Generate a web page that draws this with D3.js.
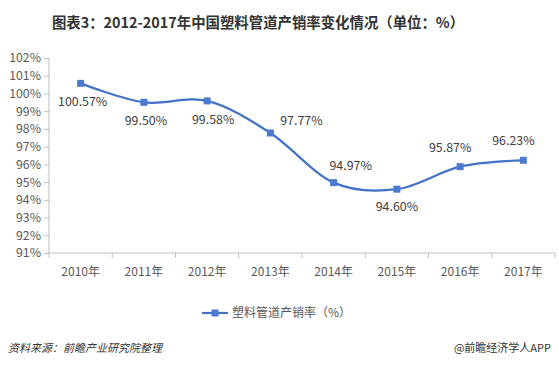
<!DOCTYPE html>
<html><head><meta charset="utf-8">
<script src="https://cdn.jsdelivr.net/npm/d3@7"></script>
<style>body{margin:0;background:#fff;}svg{display:block;}</style>
</head><body>
<script>
const title = "图表3：2012-2017年中国塑料管道产销率变化情况（单位：%）";
const categories = ["2010年","2011年","2012年","2013年","2014年","2015年","2016年","2017年"];
const values = [100.57, 99.50, 99.58, 97.77, 94.97, 94.60, 95.87, 96.23];
const yTicks = [91,92,93,94,95,96,97,98,99,100,101,102];
const seriesName = "塑料管道产销率（%）";
const sourceText = "资料来源：前瞻产业研究院整理";
const creditText = "@前瞻经济学人APP";
// label placement relative to point: [dx, dy]
const labelOffsets = [[2,18],[2,18],[6,19],[31,-12],[17,-17],[0,17],[-10,-19],[-10,-20]];

const W = 559, H = 368;
const font = "'Microsoft YaHei','Noto Sans CJK SC','Noto Sans',sans-serif";
const svg = d3.select("body").append("svg").attr("width", W).attr("height", H);

svg.append("text").attr("x", 258).attr("y", 28).attr("text-anchor","middle")
  .attr("font-family", font).attr("font-weight","bold").attr("font-size", 14.4).attr("fill","#333")
  .text(title);

const x = d3.scaleBand().domain(categories).range([49, 555]);
const y = d3.scaleLinear().domain([91, 102]).range([253, 58]);

const xAxis = svg.append("g").attr("transform","translate(0,253)")
  .call(d3.axisBottom(x).tickSize(5).tickFormat(d=>d).tickValues(categories));
xAxis.selectAll(".tick line").attr("transform", `translate(${-x.step()/2},0)`);
xAxis.append("line").attr("x1", x.range()[1]).attr("x2", x.range()[1]).attr("y1",0).attr("y2",5).attr("stroke","#bfbfbf");
xAxis.select(".domain").attr("d", `M${x.range()[0]},0H${x.range()[1]}`);
xAxis.selectAll("line,path").attr("stroke","#bfbfbf");
xAxis.selectAll("text").attr("font-family", font).attr("font-size",12).attr("fill","#595959").attr("dy","1.25em");

const yAxis = svg.append("g").attr("transform","translate(49,0)")
  .call(d3.axisLeft(y).tickValues(yTicks).tickSize(5).tickFormat(d=>d+"%"));
yAxis.select(".domain").attr("d", `M0,${y(102)}V${y(91)}`);
yAxis.selectAll("line,path").attr("stroke","#bfbfbf");
yAxis.selectAll("text").attr("font-family", font).attr("font-size",12.3).attr("fill","#595959").attr("x",-8);

const pts = categories.map((c,i)=>[x(c)+x.bandwidth()/2, y(values[i])]);
const line = d3.line().curve(d3.curveCardinal.tension(0));
svg.append("path").attr("d", line(pts)).attr("fill","none").attr("stroke","#4472c4").attr("stroke-width",2.2);

svg.selectAll("rect.m").data(pts).enter().append("rect").attr("class","m")
  .attr("x", d=>d[0]-3.5).attr("y", d=>d[1]-3.5).attr("width",7).attr("height",7).attr("fill","#4a7bd0");

svg.selectAll("text.lbl").data(values).enter().append("text").attr("class","lbl")
  .attr("x",(d,i)=>pts[i][0]+labelOffsets[i][0]).attr("y",(d,i)=>pts[i][1]+labelOffsets[i][1])
  .attr("dy","0.35em").attr("text-anchor","middle")
  .attr("font-family", font).attr("font-size",12.4).attr("fill","#404040")
  .text(d=>d.toFixed(2)+"%");

// legend
const lg = svg.append("g");
lg.append("line").attr("x1",202).attr("x2",228).attr("y1",313).attr("y2",313).attr("stroke","#4472c4").attr("stroke-width",2.2);
lg.append("rect").attr("x",211.5).attr("y",309.5).attr("width",7).attr("height",7).attr("fill","#4a7bd0");
lg.append("text").attr("x",232).attr("y",313).attr("dy","0.35em").attr("font-family",font).attr("font-size",12).attr("fill","#595959").text(seriesName);

svg.append("text").attr("x",8).attr("y",352).attr("font-family",font).attr("font-size",11).attr("font-style","italic").attr("fill","#333").text(sourceText);
svg.append("text").attr("x",551).attr("y",352).attr("text-anchor","end").attr("font-family",font).attr("font-size",11).attr("fill","#333").text(creditText);
</script>
</body></html>
